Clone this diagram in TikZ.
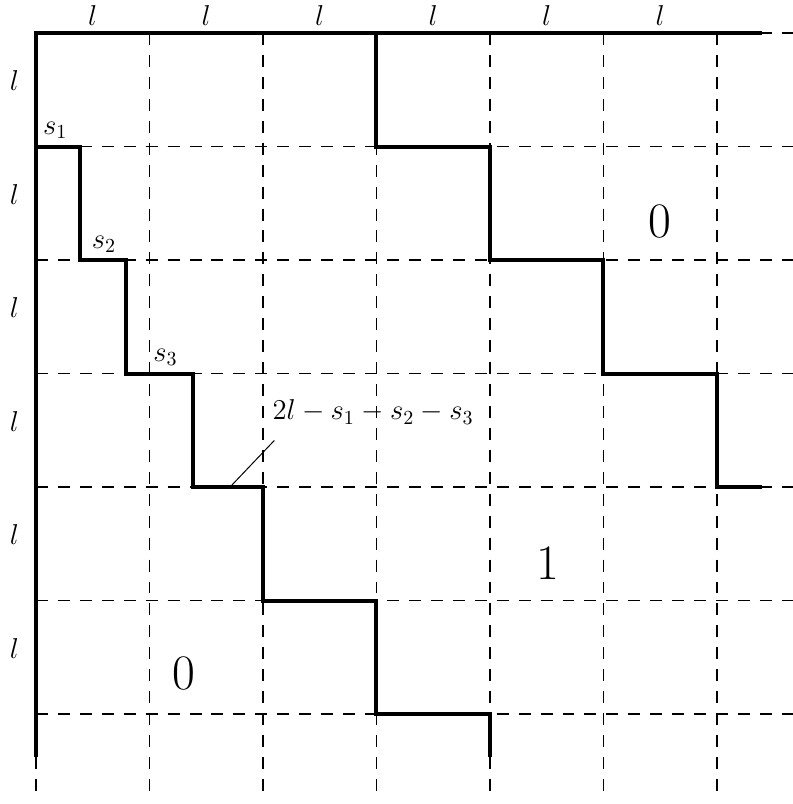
\documentclass[tikz,border=0pt]{standalone}
\usepackage{amsmath,amssymb}
\usetikzlibrary{calc,positioning}
\tikzset {
  every node/.style={font=\fontsize{14}{17}\selectfont},
  gridline/.style={dash pattern=on 6pt off 5pt,line width=0.8pt},
  wall/.style={line width=2pt},
  pointer/.style={line width=0.5pt},
  region/.style={font=\fontsize{27}{30}\selectfont},
}

\begin{document}
\begin{tikzpicture}[x=2cm,y=2cm]
          \useasboundingbox (-0.317,0.291) rectangle (6.670,-6.793);
          \foreach \i in {0,...,6} {
            \draw[gridline] (\i,0) -- (\i,-6.76);
            \draw[gridline] (0,-\i) -- (6.67,-\i);
          }
          \foreach \i in {1,...,6} {
            \node (top\i) at (\i-0.5,0.15) {$l$};
            \node (left\i) at (-0.19,-\i+0.58) {$l$};
          }
          \draw[wall] (6.4,0) -- (0,0) -- (0,-6.38);
          \draw[wall] (0,-1) -- (0.39,-1) -- (0.39,-2) -- (0.79,-2) -- (0.79,-3) -- (1.38,-3)
            -- (1.38,-4) -- (2,-4) -- (2,-5) -- (3,-5) -- (3,-6) -- (4,-6) -- (4,-6.38);
          \draw[wall] (3,0) -- (3,-1) -- (4,-1) -- (4,-2) -- (5,-2) -- (5,-3) -- (6,-3) -- (6,-4) -- (6.4,-4);
          \node (s1) at (0.17,-0.86) {$s_1$};
          \node (s2) at (0.6,-1.86) {$s_2$};
          \node (s3) at (1.14,-2.86) {$s_3$};
          \node (rest) at (2.97,-3.34) {$2l-s_1-s_2-s_3$};
          \coordinate (resthead) at (2.10,-3.59);
          \coordinate (restfoot) at (1.71,-4);
          \draw[pointer] (resthead) -- (restfoot);
          \node[region] (zerotop) at (5.50,-1.66) {$0$};
          \node[region] (one) at (4.51,-4.67) {$1$};
          \node[region] (zerobot) at (1.30,-5.64) {$0$};
        \end{tikzpicture}
\end{document}
